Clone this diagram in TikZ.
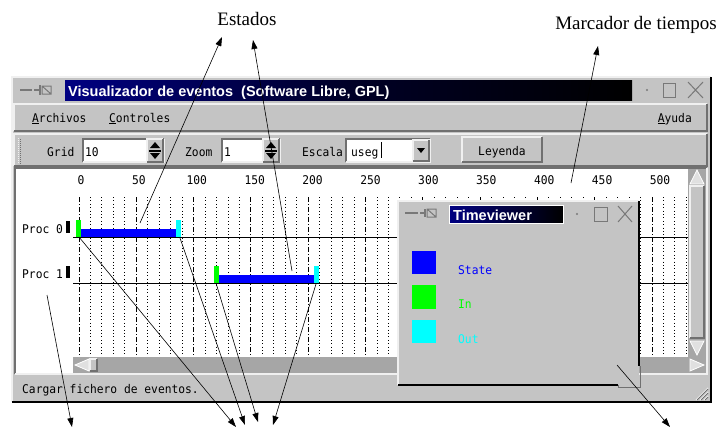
\documentclass[tikz,border=0pt]{standalone}
\usepackage{fontspec}
\usetikzlibrary{arrows.meta}
\setmainfont{Liberation Serif}
\newfontfamily\guifont[FakeStretch=0.94]{DejaVu Sans Mono}
\newfontfamily\barfont{Liberation Sans}

\definecolor{wingray}{RGB}{196,196,196}
\definecolor{edgelight}{RGB}{240,240,240}
\definecolor{edgedark}{RGB}{112,112,112}
\definecolor{troughgray}{RGB}{166,166,166}
\definecolor{arrowgray}{RGB}{224,224,224}
\definecolor{icongray}{RGB}{120,120,120}
\definecolor{titlenavy}{RGB}{0,0,130}
\definecolor{statecol}{RGB}{0,0,255}
\definecolor{incol}{RGB}{0,255,0}
\definecolor{outcol}{RGB}{0,255,255}

% bevelled panels, given by two corners x1 y1 x2 y2
\newcommand\guiraised[4]{%
  \fill[wingray] (#1,#2) rectangle (#3,#4);
  \draw[bevel light] (#1,#4) -- (#1,#2) -- (#3,#2);
  \draw[bevel dark] (#1,#4) -- (#3,#4) -- (#3,#2);}
\newcommand\guisunken[4]{%
  \fill[white] (#1,#2) rectangle (#3,#4);
  \draw[bevel dark] (#1,#4) -- (#1,#2) -- (#3,#2);
  \draw[bevel light] (#1,#4) -- (#3,#4) -- (#3,#2);}
% up/down spin buttons, top-left corner given
\newcommand\guispinner[2]{%
  \begin{scope}[shift={(#1,#2)}]
    \guiraised{0}{0}{16}{23}
    \fill (3,9) -- (13,9) -- (8,3) -- cycle;
    \fill (2,10.5) rectangle (14,12.5);
    \fill (3,14) -- (13,14) -- (8,20) -- cycle;
  \end{scope}}

\begin{document}
\begin{tikzpicture}[x=1pt,y=-1pt,
  guitext/.style={font=\guifont\fontsize{12}{14}\selectfont, inner sep=0pt},
  bartitle/.style={font=\barfont\bfseries\fontsize{14.5}{16}\selectfont, text=white, inner sep=0pt},
  note/.style={font=\fontsize{19}{22}\selectfont, inner sep=0pt},
  callout/.style={draw=black, line width=0.6pt, -{Triangle[length=9pt,width=6pt]}},
  bevel light/.style={draw=edgelight, line width=1.2pt},
  bevel dark/.style={draw=edgedark, line width=1.2pt},
  majorgrid/.style={line width=1pt, dash pattern=on 5pt off 2pt on 1pt off 2pt},
  minorgrid/.style={line width=0.9pt, dash pattern=on 1pt off 2.4pt},
  wicon/.style={draw=icongray, line width=1.3pt},
  procline/.style={line width=1pt},
  scrollarrow/.style={fill=arrowgray, draw=white, line width=0.8pt},
]
\useasboundingbox (0,0) rectangle (722,428);
\fill[white] (0,0) rectangle (722,428);

% ---------------- main window ----------------
\fill[wingray] (12,77) rectangle (711,402);
\draw[bevel light] (12,402) -- (12,77) -- (711,77);
\draw[line width=1.6pt] (12,402) -- (711,402) -- (711,77);

% title bar
\shade[left color=titlenavy, right color=black, middle color=black!70!titlenavy] (65,80) rectangle (632,100);
\node[bartitle, anchor=base west] (maintitle) at (68,96) {Visualizador de eventos\ \ (Software Libre, GPL)};
\draw[wicon] (20,90) -- (32,90);
\draw[wicon] (34,90) -- (40,90) (40,85) -- (40,95);
\draw[wicon, line width=1pt] (42,86) rectangle (51,94) (42,86) -- (51,94);
\fill[icongray] (647,90) circle (1.1);
\draw[wicon, line width=1pt] (663,83) rectangle (675,97);
\draw[wicon, line width=1pt] (688,82) -- (703,98) (688,98) -- (703,82);

% menu bar
\guiraised{14}{104}{707}{131}
\node[guitext, anchor=base west] (menufile) at (32,122) {\underline{A}rchivos};
\node[guitext, anchor=base west] (menuctl) at (109,122) {\underline{C}ontroles};
\node[guitext, anchor=base east] (menuhelp) at (692,122) {\underline{A}yuda};

% tool bar
\guiraised{14}{134}{707}{166}
\draw[edgelight, line width=1pt, dash pattern=on 1pt off 1pt] (18,138) -- (18,163);
\draw[edgedark, line width=1pt, dash pattern=on 1pt off 1pt] (20,139) -- (20,164);
\node[guitext, anchor=base west] (gridlbl) at (47,156) {Grid};
\guisunken{83}{139}{164}{162}
\node[guitext, anchor=base west] (gridval) at (85,156) {10};
\guispinner{147}{139}
\node[guitext, anchor=base west] (zoomlbl) at (185,156) {Zoom};
\guisunken{222}{139}{280}{162}
\node[guitext, anchor=base west] (zoomval) at (224,156) {1};
\guispinner{263}{139}
\node[guitext, anchor=base west] (scalelbl) at (302,156) {Escala};
\guisunken{346}{139}{430}{162}
\node[guitext, anchor=base west] (scaleval) at (351,156) {useg};
\draw[line width=0.8pt] (381,142) -- (381,158);
\begin{scope}[shift={(413,140)}]
  \guiraised{0}{0}{16}{21}
  \fill (4,8) -- (12,8) -- (8,13) -- cycle;
\end{scope}
\guiraised{462}{137}{542}{162}
\node[guitext, anchor=base] (legendbtn) at (502,155) {Leyenda};

% ---------------- event canvas ----------------
\guisunken{15}{168}{707}{374}

% time grid: every 10 units, dash-dotted every 50
\foreach \k in {0,...,53}{
  \pgfmathsetmacro\gx{79+11.46*\k}
  \pgfmathtruncatemacro\m{mod(\k,5)}
  \ifnum\m=0
    \draw[majorgrid] (\gx,197) -- (\gx,357);
  \else
    \draw[minorgrid] (\gx,197) -- (\gx,357);
  \fi
}
\foreach \v [count=\i from 0] in {0,50,...,500}{
  \node[guitext, anchor=base] (tick\v) at (81+57.9*\i,184) {\v};
}

% processes
\node[guitext, anchor=base west] (proc0) at (22,233) {Proc 0};
\node[guitext, anchor=base west] (proc1) at (22,278) {Proc 1};
\fill (66,221) rectangle (70,233);
\fill (66,266) rectangle (70,278);
\draw[procline] (73,237) -- (688,237);
\draw[procline] (73,283) -- (688,283);

% events of process 0
\fill[incol] (76,220) rectangle (81,237);
\fill[statecol] (81,229) rectangle (176,237);
\fill[outcol] (176,220) rectangle (181,237);
% events of process 1
\fill[incol] (214,266) rectangle (219,283);
\fill[statecol] (219,275) rectangle (314,283);
\fill[outcol] (314,266) rectangle (319,283);

% scroll bars
\fill[white] (17,357) rectangle (73,373);
\fill[troughgray] (73,357) rectangle (706,373);
\fill[troughgray] (688,169) rectangle (706,357);
\draw[scrollarrow] (75,365) -- (89,359) -- (89,371) -- cycle;
\guiraised{90}{359}{97}{371}
\draw[scrollarrow] (704,365) -- (690,359) -- (690,371) -- cycle;
\draw[scrollarrow] (697,170) -- (704,184) -- (690,184) -- cycle;
\guiraised{690}{186}{704}{338}
\draw[scrollarrow] (697,355) -- (704,341) -- (690,341) -- cycle;

% status line and size grip
\node[guitext, anchor=base west] (status) at (22,393) {Cargar fichero de eventos.};
\foreach \d in {4,8,12}{
  \draw[white, line width=0.8pt] (708-\d,400) -- (708,400-\d);
  \draw[edgedark, line width=0.8pt] (709-\d,400) -- (708,401-\d);
}

% ---------------- legend window ----------------
\fill[wingray] (398,201) rectangle (639,385);
\draw[bevel light] (398,385) -- (398,201) -- (639,201);
\draw[line width=2pt] (639,201) -- (639,366);
\draw[line width=2pt] (398,385) -- (618,385);
\draw[edgedark, line width=1pt] (618,385) -- (618,387) -- (640,387) -- (640,366);
\shade[left color=titlenavy, right color=black] (449,205) rectangle (563,223);
\draw[white, line width=0.6pt] (449,205) rectangle (563,223);
\node[bartitle, anchor=base west] (legtitle) at (453,220) {Timeviewer};
\draw[wicon] (405,213) -- (418,213);
\draw[wicon] (420,213) -- (425,213) (425,209) -- (425,217);
\draw[wicon, line width=1pt] (427,209) rectangle (436,217) (427,209) -- (436,217);
\fill[icongray] (577,214) circle (1.1);
\draw[wicon, line width=1pt] (594,207) rectangle (607,221);
\draw[wicon, line width=1pt] (618,206) -- (632,222) (618,222) -- (632,206);

\fill[statecol] (412,251) rectangle (436,274);
\fill[incol] (412,285) rectangle (436,309);
\fill[outcol] (412,320) rectangle (436,343);
\node[guitext, anchor=base west, text=statecol] (legstate) at (458,274) {State};
\node[guitext, anchor=base west, text=incol] (legin) at (458,308) {In};
\node[guitext, anchor=base west, text=outcol] (legout) at (458,343) {Out};

% ---------------- call-outs ----------------
\node[note, anchor=base] (estados) at (247,26) {Estados};
\node[note, anchor=base] (marcador) at (636,30) {Marcador de tiempos};

\coordinate (stateA) at (140,223);
\coordinate (stateB) at (292,271);
\coordinate (estA) at (222,37);
\coordinate (estB) at (253,40);
\coordinate (tickmark) at (571,183);
\coordinate (marcTip) at (598,46);
\coordinate (procTail) at (47,295);
\coordinate (inA) at (79,237);
\coordinate (outA) at (180,238);
\coordinate (inB) at (216,283);
\coordinate (outB) at (316,284);
\coordinate (legTail) at (617,365);
\coordinate (tipProc) at (72,427);
\coordinate (tipInA) at (236,427);
\coordinate (tipOutA) at (245,425);
\coordinate (tipInB) at (258,422);
\coordinate (tipOutB) at (273,425);
\coordinate (tipLeg) at (670,427);

\draw[callout] (stateA) -- (estA);
\draw[callout] (stateB) -- (estB);
\draw[callout] (tickmark) -- (marcTip);
\draw[callout] (procTail) -- (tipProc);
\draw[callout] (inA) -- (tipInA);
\draw[callout] (outA) -- (tipOutA);
\draw[callout] (inB) -- (tipInB);
\draw[callout] (outB) -- (tipOutB);
\draw[callout] (legTail) -- (tipLeg);
\end{tikzpicture}
\end{document}
